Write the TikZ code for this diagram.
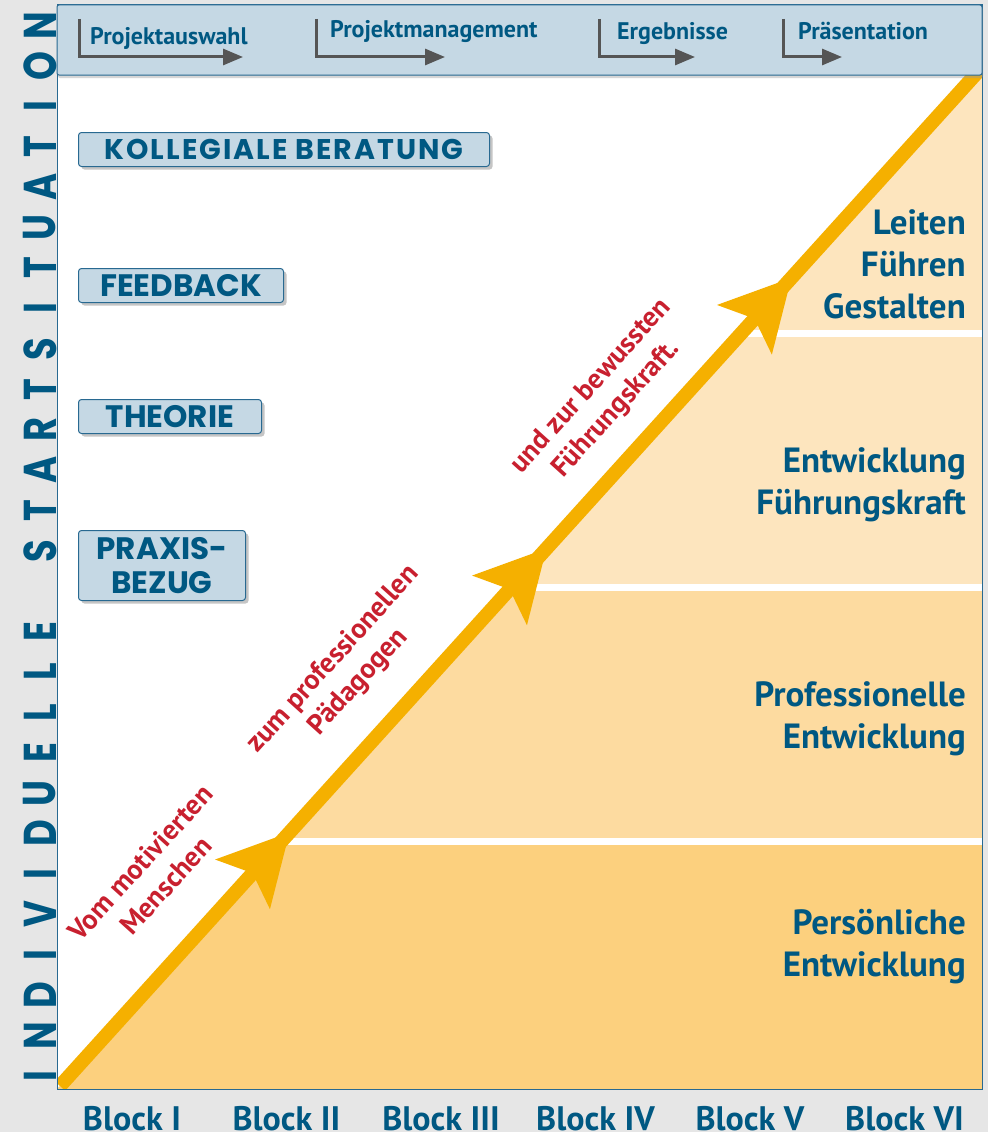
\documentclass[tikz,border=0pt]{standalone}
\usepackage{graphicx}
\usepackage{fontspec}
\setmainfont{PT Sans}
\newfontfamily\boxfont{Poppins}
\newfontfamily\widebox[LetterSpace=7]{Poppins}
\usetikzlibrary{positioning,arrows.meta,decorations.markings,shadows}

\definecolor{bggray}{RGB}{230,230,230}
\definecolor{darkblue}{RGB}{0,88,130}
\definecolor{lightblue}{RGB}{197,216,228}
\definecolor{frameblue}{RGB}{40,105,145}
\definecolor{bracketgray}{RGB}{85,85,85}
\definecolor{arroworange}{RGB}{245,176,0}
\definecolor{bandA}{RGB}{252,208,126}
\definecolor{bandB}{RGB}{253,219,160}
\definecolor{bandC}{RGB}{253,229,190}
\definecolor{mottored}{RGB}{200,32,47}

\begin{document}
\begin{tikzpicture}[x=1pt, y=-1pt,
    phase/.style={font=\fontsize{24}{28}\selectfont\bfseries, text=darkblue, anchor=base west, inner sep=0pt},
    bracket/.style={draw=bracketgray, line width=3pt, -{Triangle[length=20pt,width=16pt]}},
    tagbox/.style={draw=frameblue, line width=1pt, fill=lightblue, rounded corners=3pt, anchor=north west, inner sep=0pt, text=darkblue, align=center,
      drop shadow={shadow xshift=3pt, shadow yshift=-3pt, fill=black!45, opacity=0.5}},
    sidechar/.style={rotate=90, inner sep=0pt, text=darkblue, font=\boxfont\bfseries\fontsize{46}{46}\selectfont},
    stage/.style={font=\fontsize{35}{42}\selectfont\bfseries, text=darkblue, align=right, anchor=east, inner sep=0pt},
    motto/.style={font=\fontsize{28}{34}\selectfont\bfseries, text=mottored, align=center, rotate=47.85, inner sep=0pt},
    block/.style={font=\fontsize{34}{40}\selectfont\bfseries, text=darkblue, anchor=base, inner sep=0pt}]

  \fill[bggray] (0,0) rectangle (988,1132);
  \useasboundingbox (0,0) rectangle (988,1132);
  \fill[white] (57,5) rectangle (982,1089);

  \coordinate (start) at (60,1086);
  \coordinate (end) at (985,64);

  \begin{scope}
    \clip (57,75) rectangle (982,1089);
    \clip (start) -- (end) -- (990,1095) -- (50,1095) -- cycle;
    \fill[bandA] (50,845) rectangle (990,1095);
    \fill[bandB] (50,591) rectangle (990,838);
    \fill[bandC] (50,337) rectangle (990,584);
    \fill[bandC] (50,60) rectangle (990,330);
  \end{scope}

  \begin{scope}
    \clip (57,75) rectangle (982,1089);
    \draw[arroworange, line width=14pt, postaction={decorate}, decoration={markings,
        mark=at position 342pt with {\arrow{Stealth[length=70pt,width=74pt,inset=15pt,line width=0pt]}},
        mark=at position 725pt with {\arrow{Stealth[length=70pt,width=74pt,inset=15pt,line width=0pt]}},
        mark=at position 1090pt with {\arrow{Stealth[length=70pt,width=74pt,inset=15pt,line width=0pt]}}}]
      (start) -- (end);
  \end{scope}

  \draw[frameblue, line width=1pt] (57,5) rectangle (982,1089);
  \draw[frameblue, line width=1pt, fill=lightblue, rounded corners=2pt,
    drop shadow={shadow xshift=1pt, shadow yshift=-3pt, fill=black!40, opacity=0.4}] (57,5) rectangle (982,75);

  \foreach \x/\tx/\ty/\e/\name [count=\i] in {79/90/45/243/Projektauswahl, 316/330/38/445/Projektmanagement,
      599/617/40/695/Ergebnisse, 783/798/40/842/Präsentation} {
    \coordinate (top\i) at (\x,19);
    \coordinate (tip\i) at (\e,57);
    \draw[bracket] (top\i) |- (tip\i);
    \node[phase] (phase\i) at (\tx,\ty) {\name};
  }

  \node[tagbox, minimum width=411pt, minimum height=34pt, font=\widebox\bfseries\fontsize{28.5}{30}\selectfont] (beratung) at (78,132) {KOLLEGIALE BERATUNG};
  \node[tagbox, minimum width=205pt, minimum height=34pt, font=\boxfont\bfseries\fontsize{31}{34}\selectfont] (feedback) at (78,268) {FEEDBACK};
  \node[tagbox, minimum width=183pt, minimum height=34pt, font=\boxfont\bfseries\fontsize{31}{34}\selectfont] (theorie) at (78,399) {THEORIE};
  \node[tagbox, minimum width=167pt, minimum height=70pt, font=\boxfont\bfseries\fontsize{31}{34}\selectfont] (praxis) at (78,530) {PRAXIS-\\BEZUG};

  \foreach \ch [count=\k from 0] in {I,N,D,I,V,I,D,U,E,L,L,E}
    \node[sidechar] (first\k) at (40,{1076-40.4*\k}) {\scalebox{0.8}[1]{\ch}};
  \foreach \ch [count=\k from 13] in {S,T,A,R,T,S,I,T,U,A,T,I,O,N}
    \node[sidechar] (second\k) at (40,{1076-40.4*\k}) {\scalebox{0.8}[1]{\ch}};

  \node[stage] (leiten) at (966,264) {Leiten\\Führen\\Gestalten};
  \node[stage] (fuehrungskraft) at (966,485) {Entwicklung\\Führungskraft};
  \node[stage] (professionell) at (966,719) {Professionelle\\Entwicklung};
  \node[stage] (persoenlich) at (966,947) {Persönliche\\Entwicklung};

  \node[motto] (mensch) at (153,874) {Vom motivierten\\Menschen};
  \node[motto] (paedagoge) at (346,671) {zum professionellen\\Pädagogen};
  \node[motto] (fuehrung) at (604,398) {und zur bewussten\\Führungskraft.};

  \foreach \lbl [count=\i] in {I,II,III,IV,V,VI}
    \node[block] (block\i) at ({132+154.5*(\i-1)},1130) {Block \lbl};
\end{tikzpicture}
\end{document}
